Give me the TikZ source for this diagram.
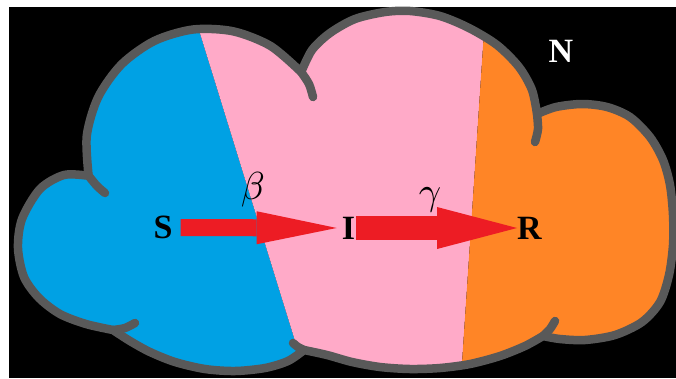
\documentclass[tikz,border=0pt]{standalone}
\usepackage{fontspec}
\setmainfont{Liberation Serif}
\DeclareFontShape{OML}{cmm}{m}{it}{<->cmmi10}{}
\usepackage{tikz}
\usetikzlibrary{arrows.meta}
\definecolor{sblue}{RGB}{0,161,228}
\definecolor{ipink}{RGB}{255,170,200}
\definecolor{rorange}{RGB}{255,133,38}
\definecolor{rim}{RGB}{89,89,89}
\definecolor{flowred}{RGB}{237,28,36}
\tikzset{
  rimline/.style   = {draw=rim, line width=8.5pt, line join=round},
  tail/.style      = {rimline, line cap=round},
  lbl/.style       = {inner sep=0pt, font=\fontsize{34}{34}\selectfont\bfseries},
  rate/.style      = {inner sep=0pt, font=\fontsize{39}{39}\selectfont},
  flow/.style      = {draw=flowred, line width=17pt,
                      -{Triangle[length=80pt, width=33pt, line width=0pt]}},
  wide flow/.style = {draw=flowred, line width=24pt,
                      -{Triangle[length=80pt, width=42pt, line width=0pt]}},
}
% outline of the cloud, one smooth piece per lobe
\newcommand{\cloudoutline}{
  plot[smooth] coordinates {(113,330) (86,324) (60,314) (39,298) (24,277)
    (18,248) (22,219) (40,189) (64,175) (88.6,175.8)}
  -- plot[smooth] coordinates {(88.6,175.8) (86.8,135.6) (98.2,97.1)
    (121.6,64.3) (154.4,40.9) (193,29.5) (233.1,31.3) (270.6,46) (301.2,72.1)}
  -- plot[smooth] coordinates {(301.2,72.1) (312,50) (330,33) (355,19) (385,12)
    (410,11) (440,16) (469,28) (497,45) (519,67) (532,90) (537,114)}
  -- plot[smooth] coordinates {(537,114) (556,107) (582,104) (607,107)
    (630,117) (650,137) (663,160) (670,185) (673,215) (673,245) (669,275)
    (660,302) (642,322) (615,335) (585,340) (560,339) (543,336)}
  -- plot[smooth] coordinates {(543,336) (525,346) (500,356) (470,364)
    (440,368) (410,369) (380,367) (352,362) (327,355) (304,350)}
  -- plot[smooth] coordinates {(304,350) (288,361) (265,368) (235,371)
    (205,369) (175,362) (150,352) (130,341) (113,330)}
  -- cycle}

\begin{document}
\begin{tikzpicture}[x=1pt, y=-1pt]
  \useasboundingbox (0,0) rectangle (676,378);
  \fill[white] (0,0) rectangle (676,378);
  \fill[black] (9,7) rectangle (676,378);

  \begin{scope}
    \clip \cloudoutline;
    \fill[sblue]   (0,0) -- (189.7,0) -- (306.5,378) -- (0,378) -- cycle;
    \fill[ipink]   (189.7,0) -- (486.1,0) -- (461,378) -- (306.5,378) -- cycle;
    \fill[rorange] (486.1,0) -- (676,0) -- (676,378) -- (461,378) -- cycle;
  \end{scope}
  \draw[rimline] \cloudoutline;

  % inner ends of the lobes
  \draw[tail] plot[smooth] coordinates {(88.6,175.8) (97,186) (105,193)};
  \draw[tail] plot[smooth] coordinates {(301.2,72.1) (309,84) (313,97)};
  \draw[tail] plot[smooth] coordinates {(537,114) (538,129) (535,142)};
  \draw[tail] plot[smooth] coordinates {(543,336) (550,329) (555,321)};
  \draw[tail] plot[smooth] coordinates {(304,350) (298,347) (293,343)};
  \draw[tail] plot[smooth] coordinates {(113,330) (125,328) (135,323)};

  \node[lbl] (S) at (163,227.5) {S};
  \node[lbl] (I) at (348.5,228) {I};
  \node[lbl] (R) at (529.5,228) {R};
  \node[lbl, text=white] (N) at (561,51.5) {N};
  \node[rate] (beta)  at (253,190)   {$\beta$};
  \node[rate] (gamma) at (430,199.5) {$\gamma$};

  \draw[flow, shorten <=8pt, shorten >=5pt] (S) -- (I);
  \draw[wide flow, shorten <=1pt] (I) -- (R);
\end{tikzpicture}
\end{document}
